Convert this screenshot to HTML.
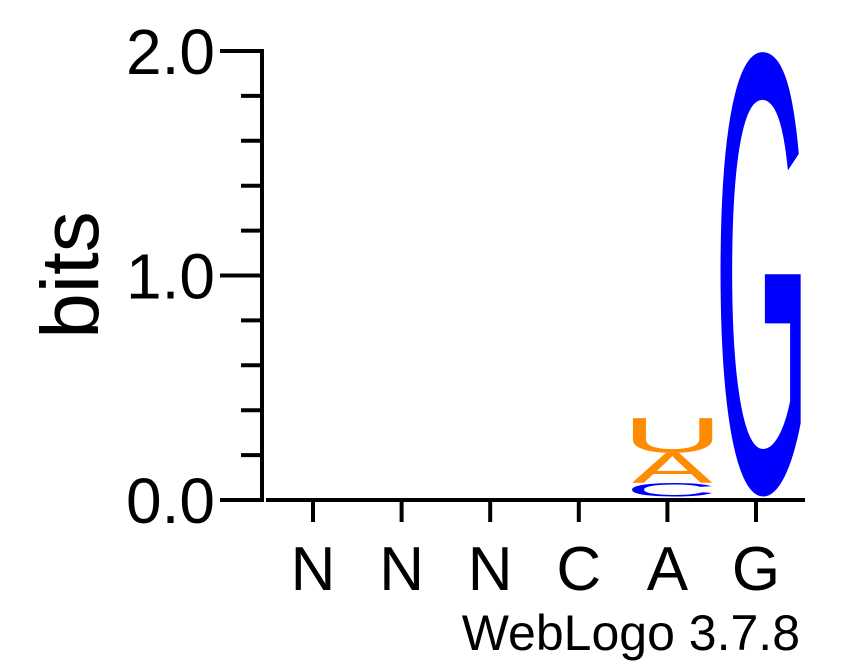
<!DOCTYPE html>
<html><head><meta charset="utf-8"><style>body{margin:0;background:#fff}svg{display:block}text{font-family:"Liberation Sans",sans-serif}</style></head>
<body>
<svg id="logo" width="850" height="667" viewBox="0 0 850 667" xmlns="http://www.w3.org/2000/svg"></svg>
<script>
const positions = ["N","N","N","C","A","G"];
const stackLetters = [[],[],[],[],["C","A","U"],["G"]];
const stackBits = [[],[],[],[],[0.06,0.135,0.155],[1.985]];
const yTickLabels = ["0.0","1.0","2.0"];
const colors = {A:"#ff8c00",U:"#ff8c00",C:"#0000ff",G:"#0000ff"};
const NS="http://www.w3.org/2000/svg";
const svg=document.getElementById('logo');
const y0=500, pxPerBit=224.5, baseOffset=0.015;
const yS=b=>y0-b*pxPerBit;
const xS=i=>313+i*88.6;
const ctx=document.createElement('canvas').getContext('2d');
ctx.font='100px "Liberation Sans", sans-serif';
function mk(t,a,p){const e=document.createElementNS(NS,t);for(const k in a)e.setAttribute(k,a[k]);(p||svg).appendChild(e);return e;}
let e=mk('line',{x1:262,y1:yS(2)-2,x2:262,y2:y0+2,stroke:'#000','stroke-width':4});


for(let k=0;k<=10;k++){const b=k*0.2;const major=k%5===0;
 e=mk('line',{x1:major?220:241,y1:yS(b),x2:262,y2:yS(b),stroke:'#000','stroke-width':4});
 
 }
yTickLabels.forEach((l,i)=>{e=mk('text',{x:215,y:yS(i)+23,'font-size':64,'text-anchor':'end'});e.textContent=l;
 
 });
e=mk('text',{x:0,y:0,'font-size':82,'text-anchor':'middle',transform:'translate(98,275) rotate(-90)'});e.textContent='bits';


e=mk('line',{x1:266,y1:y0,x2:805,y2:y0,stroke:'#000','stroke-width':4});


positions.forEach((p,i)=>{
 e=mk('line',{x1:xS(i),y1:y0,x2:xS(i),y2:522,stroke:'#000','stroke-width':4});
 
 
 e=mk('text',{x:xS(i),y:590,'font-size':62,'text-anchor':'middle'});e.textContent=p;
 
 
 let base=baseOffset;
 stackLetters[i].forEach((L,j)=>{
  const m=ctx.measureText(L);
  const inkW=m.actualBoundingBoxLeft+m.actualBoundingBoxRight;
  const inkH=m.actualBoundingBoxAscent+m.actualBoundingBoxDescent;
  const h=stackBits[i][j]*pxPerBit, w=81;
  const top=yS(base+stackBits[i][j]);
  const left=xS(i)+5-w/2;
  const t=mk('text',{x:m.actualBoundingBoxLeft,y:m.actualBoundingBoxAscent,'font-size':100,fill:colors[L],
   transform:`translate(${left},${top}) scale(${w/inkW},${h/inkH})`});
  t.textContent=L;
  
  
  base+=stackBits[i][j];
 });
});
e=mk('text',{x:800,y:650,'font-size':50,'text-anchor':'end'});e.textContent='WebLogo 3.7.8';


</script>
</body></html>
